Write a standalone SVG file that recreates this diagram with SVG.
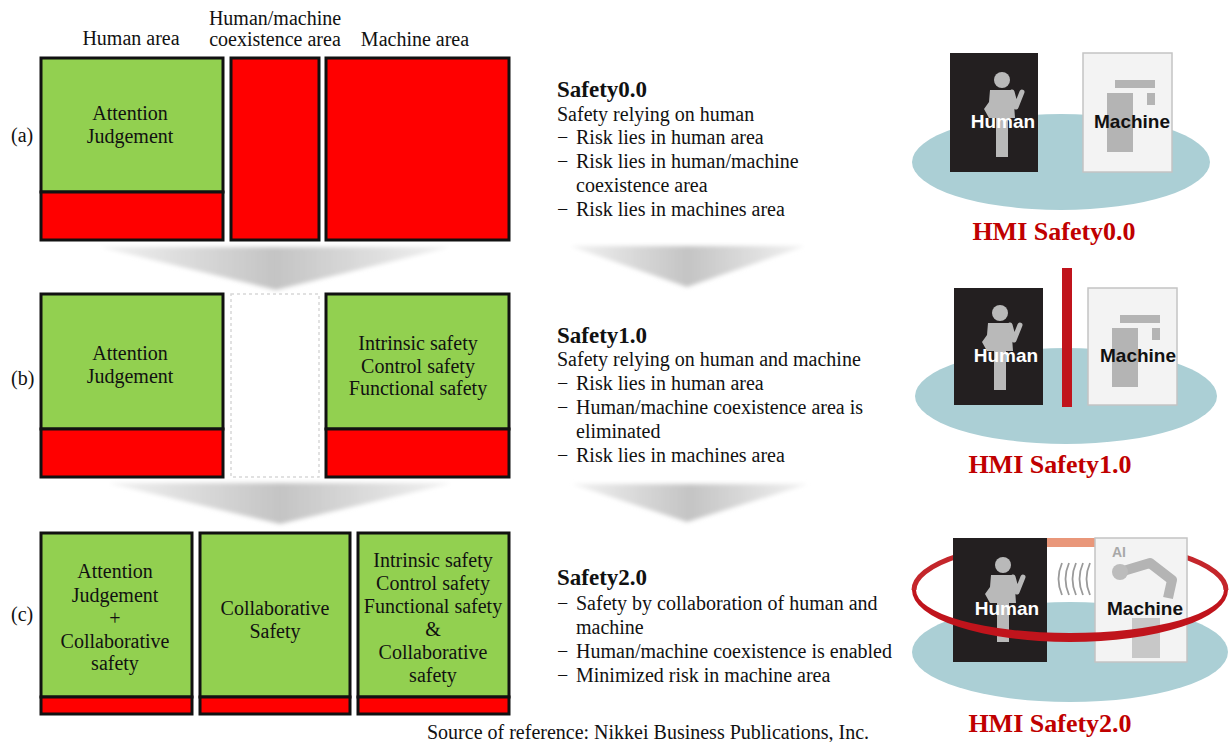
<svg xmlns="http://www.w3.org/2000/svg" width="1230" height="742" viewBox="0 0 1230 742">
  <style>
    .t { font-family: "Liberation Serif", "Times New Roman", serif; font-size: 20px; fill: #111; }
    .c { text-anchor: middle; }
    .b { font-weight: bold; font-size: 23px; }
    .hmi { font-family: "Liberation Serif", "Times New Roman", serif; font-weight: bold; font-size: 26px; fill: #c00000; text-anchor: middle; }
    .lbl { font-family: "Liberation Sans", Arial, sans-serif; font-weight: bold; font-size: 19px; text-anchor: middle; }
    .green { fill: #92d050; stroke: #111; stroke-width: 3; }
    .red { fill: #ff0000; stroke: #111; stroke-width: 3; }
    .hcard { fill: #231f20; }
    .mcard { fill: #f3f3f3; stroke: #c4c4c4; stroke-width: 1.5; }
    .blk { fill: #b4b4b4; }
    .fig { fill: #b9b9b9; }
    .disk { fill: #abcfd5; }
    .wave { fill: none; stroke: #9a9a9a; stroke-width: 1.8; }
  </style>
  <defs>
    <linearGradient id="chev" x1="0" y1="0" x2="1" y2="0">
      <stop offset="0" stop-color="#f2f2f2"/>
      <stop offset="0.5" stop-color="#c4c4c4"/>
      <stop offset="1" stop-color="#f2f2f2"/>
    </linearGradient>
    <filter id="soft" x="-10%" y="-30%" width="120%" height="160%">
      <feGaussianBlur stdDeviation="2.2"/>
    </filter>
    <!-- standing person pictogram, origin at the head centre -->
    <g id="person">
      <circle cx="0" cy="0" r="8" class="fig"/>
      <path class="fig" d="M -12,10 H 11 L 13,38 H 6 V 77 H -6 V 38 H -13 L -18,29 L -13,22 Z"/>
      <path d="M 10,12 L 14,27 L 20,12" fill="none" stroke="#b9b9b9" stroke-width="5" stroke-linejoin="round" stroke-linecap="round"/>
    </g>
    <!-- machine blocks, origin at card top-left -->
    <g id="blocks">
      <rect x="32" y="27" width="40" height="8" class="blk"/>
      <rect x="64" y="40" width="8" height="12" class="blk"/>
      <rect x="24" y="40" width="26" height="59" class="blk"/>
    </g>
  </defs>

  <rect width="1230" height="742" fill="#ffffff"/>

  <!-- column headers -->
  <g id="headers">
    <text class="t c" x="131" y="45">Human area</text>
    <text class="t c" x="275" y="25">Human/machine</text>
    <text class="t c" x="275" y="46">coexistence area</text>
    <text class="t c" x="415" y="46">Machine area</text>
  </g>

  <!-- transition arrows -->
  <g id="connectors" filter="url(#soft)">
    <path d="M 100,247 L 450,247 L 276,290 Z" fill="url(#chev)"/>
    <path d="M 108,483 L 452,483 L 280,524 Z" fill="url(#chev)"/>
    <path d="M 570,246 L 805,246 L 687,287 Z" fill="url(#chev)"/>
    <path d="M 572,484 L 808,484 L 687,522 Z" fill="url(#chev)"/>
  </g>

  <!-- row (a) -->
  <g id="row-a">
    <text class="t" x="11" y="142">(a)</text>
    <rect class="green" x="41" y="58" width="182" height="134"/>
    <rect class="red" x="41" y="192" width="182" height="48"/>
    <text class="t c" x="130" y="120">Attention</text>
    <text class="t c" x="130" y="143">Judgement</text>
    <rect class="red" x="231" y="58" width="88" height="182"/>
    <rect class="red" x="326" y="58" width="183" height="182"/>
  </g>

  <!-- row (b) -->
  <g id="row-b">
    <text class="t" x="11" y="385">(b)</text>
    <rect class="green" x="41" y="294" width="182" height="135"/>
    <rect class="red" x="41" y="429" width="182" height="48"/>
    <text class="t c" x="130" y="360">Attention</text>
    <text class="t c" x="130" y="383">Judgement</text>
    <rect x="231" y="294" width="88" height="183" fill="#ffffff" stroke="#d8d8d8" stroke-width="1.5" stroke-dasharray="3 3"/>
    <rect class="green" x="326" y="294" width="183" height="135"/>
    <rect class="red" x="326" y="429" width="183" height="48"/>
    <text class="t c" x="418" y="350">Intrinsic safety</text>
    <text class="t c" x="418" y="373">Control safety</text>
    <text class="t c" x="418" y="395">Functional safety</text>
  </g>

  <!-- row (c) -->
  <g id="row-c">
    <text class="t" x="11" y="621">(c)</text>
    <rect class="green" x="41" y="533" width="151" height="164"/>
    <rect class="red" x="41" y="697" width="151" height="17"/>
    <text class="t c" x="115" y="578">Attention</text>
    <text class="t c" x="115" y="602">Judgement</text>
    <text class="t c" x="115" y="625">+</text>
    <text class="t c" x="115" y="648">Collaborative</text>
    <text class="t c" x="115" y="670">safety</text>
    <rect class="green" x="200" y="533" width="150" height="164"/>
    <rect class="red" x="200" y="697" width="150" height="17"/>
    <text class="t c" x="275" y="615">Collaborative</text>
    <text class="t c" x="275" y="638">Safety</text>
    <rect class="green" x="358" y="533" width="151" height="164"/>
    <rect class="red" x="358" y="697" width="151" height="17"/>
    <text class="t c" x="433" y="567">Intrinsic safety</text>
    <text class="t c" x="433" y="590">Control safety</text>
    <text class="t c" x="433" y="613">Functional safety</text>
    <text class="t c" x="433" y="636">&amp;</text>
    <text class="t c" x="433" y="659">Collaborative</text>
    <text class="t c" x="433" y="682">safety</text>
  </g>

  <!-- descriptions -->
  <g id="desc-0">
    <text class="t b" x="557" y="97">Safety0.0</text>
    <text class="t" x="557" y="121">Safety relying on human</text>
    <text class="t" x="557" y="144">−</text><text class="t" x="576" y="144">Risk lies in human area</text>
    <text class="t" x="557" y="168">−</text><text class="t" x="576" y="168">Risk lies in human/machine</text>
    <text class="t" x="576" y="192">coexistence area</text>
    <text class="t" x="557" y="216">−</text><text class="t" x="576" y="216">Risk lies in machines area</text>
  </g>
  <g id="desc-1">
    <text class="t b" x="557" y="343">Safety1.0</text>
    <text class="t" x="557" y="366">Safety relying on human and machine</text>
    <text class="t" x="557" y="390">−</text><text class="t" x="576" y="390">Risk lies in human area</text>
    <text class="t" x="557" y="414">−</text><text class="t" x="576" y="414">Human/machine coexistence area is</text>
    <text class="t" x="576" y="438">eliminated</text>
    <text class="t" x="557" y="462">−</text><text class="t" x="576" y="462">Risk lies in machines area</text>
  </g>
  <g id="desc-2">
    <text class="t b" x="557" y="585">Safety2.0</text>
    <text class="t" x="557" y="610">−</text><text class="t" x="576" y="610">Safety by collaboration of human and</text>
    <text class="t" x="576" y="634">machine</text>
    <text class="t" x="557" y="658">−</text><text class="t" x="576" y="658">Human/machine coexistence is enabled</text>
    <text class="t" x="557" y="682">−</text><text class="t" x="576" y="682">Minimized risk in machine area</text>
  </g>

  <!-- HMI Safety 0.0 -->
  <g id="hmi-0">
    <ellipse class="disk" cx="1061" cy="162" rx="149" ry="48"/>
    <rect class="hcard" x="950" y="53" width="88" height="119"/>
    <use href="#person" x="1002" y="80"/>
    <text class="lbl" x="1003" y="128" fill="#ffffff">Human</text>
    <rect class="mcard" x="1083" y="53" width="89" height="119"/>
    <use href="#blocks" x="1083" y="53"/>
    <text class="lbl" x="1132" y="128" fill="#111">Machine</text>
    <text class="hmi" x="1054" y="240">HMI Safety0.0</text>
  </g>

  <!-- HMI Safety 1.0 -->
  <g id="hmi-1">
    <ellipse class="disk" cx="1066" cy="396" rx="151" ry="48"/>
    <rect class="hcard" x="954" y="288" width="89" height="117"/>
    <use href="#person" x="1000" y="313"/>
    <text class="lbl" x="1006" y="362" fill="#ffffff">Human</text>
    <rect x="1062" y="268" width="10" height="139" fill="#c0141c"/>
    <rect class="mcard" x="1088" y="288" width="89" height="117"/>
    <use href="#blocks" x="1088" y="288"/>
    <text class="lbl" x="1138" y="362" fill="#111">Machine</text>
    <text class="hmi" x="1050" y="473">HMI Safety1.0</text>
  </g>

  <!-- HMI Safety 2.0 -->
  <g id="hmi-2">
    <ellipse class="disk" cx="1070" cy="652" rx="158" ry="50"/>
    <!-- back half of the ring -->
    <path d="M 914,590 A 156 49 0 0 1 1226,590" fill="none" stroke="#c4262b" stroke-width="5"/>
    <rect x="1047" y="538" width="48" height="9" fill="#e9977a"/>
    <rect x="1047" y="547" width="48" height="55" fill="#ffffff"/>
    <rect class="hcard" x="953" y="538" width="94" height="124"/>
    <use href="#person" x="1003" y="565"/>
    <rect class="mcard" x="1095" y="538" width="92" height="124"/>
    <text x="1119" y="557" font-family="Liberation Sans, Arial, sans-serif" font-weight="bold" font-size="14" fill="#a8a8a8" text-anchor="middle">AI</text>
    <path d="M 1120,572 L 1150,563 L 1172,580 L 1168,598" fill="none" stroke="#b4b4b4" stroke-width="10" stroke-linejoin="round"/>
    <circle cx="1120" cy="572" r="8" fill="#bcbcbc"/>
    <rect x="1132" y="618" width="28" height="40" fill="#c8c8c8"/>
    <path class="wave" d="M 1062,563 Q 1055,579 1062,595"/>
    <path class="wave" d="M 1069,563 Q 1062,579 1069,595"/>
    <path class="wave" d="M 1076,563 Q 1069,579 1076,595"/>
    <path class="wave" d="M 1083,563 Q 1076,579 1083,595"/>
    <path class="wave" d="M 1090,563 Q 1083,579 1090,595"/>
    <text class="lbl" x="1007" y="615" font-size="20" fill="#ffffff">Human</text>
    <text class="lbl" x="1145" y="615" font-size="20" fill="#111">Machine</text>
    <!-- front half of the ring -->
    <path d="M 912,590 A 158 52 0 0 0 1228,590 L 1224,590 A 154 43 0 0 1 916,590 Z" fill="#c0141c"/>
    <text class="hmi" x="1050" y="732">HMI Safety2.0</text>
  </g>

  <text class="t" x="427" y="739">Source of reference: Nikkei Business Publications, Inc.</text>
</svg>
